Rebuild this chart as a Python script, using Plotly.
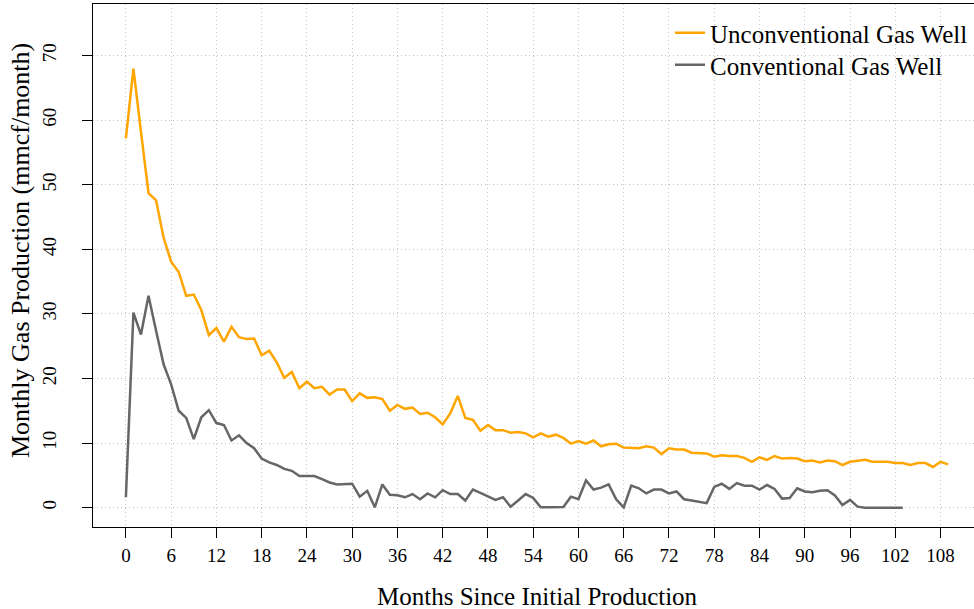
import plotly.graph_objects as go

months_unconv = list(range(0, 110))
unconventional = [57.2, 68.0, 58.2, 48.7, 47.6, 41.8, 38.1, 36.5, 32.8, 33.0,
                  30.6, 26.7, 27.8, 25.7, 28.0, 26.4, 26.1, 26.2, 23.6, 24.3,
                  22.5, 20.1, 21.0, 18.5, 19.5, 18.5, 18.7, 17.5, 18.3, 18.3,
                  16.5, 17.7, 17.0, 17.1, 16.8, 15.0, 15.9, 15.3, 15.5, 14.5,
                  14.7, 14.0, 12.9, 14.6, 17.3, 13.9, 13.6, 11.9, 12.8, 12.0,
                  12.0, 11.6, 11.7, 11.5, 10.9, 11.5, 11.0, 11.3, 10.8, 9.9,
                  10.3, 9.9, 10.4, 9.5, 9.8, 9.9, 9.3, 9.2, 9.2, 9.5,
                  9.3, 8.3, 9.2, 9.0, 9.0, 8.5, 8.5, 8.4, 7.9, 8.1,
                  8.0, 8.0, 7.7, 7.1, 7.8, 7.4, 8.0, 7.6, 7.7, 7.6,
                  7.2, 7.3, 7.0, 7.3, 7.2, 6.6, 7.1, 7.3, 7.4, 7.1,
                  7.1, 7.1, 6.9, 6.9, 6.6, 6.9, 6.9, 6.3, 7.1, 6.7]

months_conv = list(range(0, 104))
conventional = [1.6, 30.2, 26.8, 32.8, 27.4, 22.2, 19.1, 15.0, 13.9, 10.6,
                14.0, 15.1, 13.1, 12.8, 10.4, 11.2, 10.0, 9.2, 7.6, 7.0,
                6.6, 6.0, 5.7, 4.9, 4.9, 4.9, 4.4, 3.9, 3.6, 3.6,
                3.7, 1.7, 2.6, 0.05, 3.6, 2.0, 1.9, 1.6, 2.1, 1.3,
                2.2, 1.6, 2.7, 2.1, 2.1, 1.1, 2.8, 2.3, 1.7, 1.2,
                1.6, 0.15, 1.1, 2.1, 1.5, 0.05, 0.05, 0.05, 0.1, 1.7,
                1.3, 4.2, 2.8, 3.1, 3.6, 1.3, 0.05, 3.4, 3.0, 2.2,
                2.8, 2.8, 2.2, 2.5, 1.3, 1.1, 0.9, 0.7, 3.2, 3.7,
                2.9, 3.8, 3.4, 3.4, 2.8, 3.5, 2.9, 1.4, 1.5, 3.0,
                2.5, 2.4, 2.6, 2.7, 1.9, 0.4, 1.2, 0.15, 0.0, 0.0,
                0.0, 0.0, 0.0, 0.0]

x_ticks = list(range(0, 109, 6))
y_ticks = list(range(0, 71, 10))

FONT = "Liberation Serif"
PLOT_L, PLOT_T, PLOT_W, PLOT_H = 93, 4, 881, 523

fig = go.Figure()
fig.add_trace(go.Scatter(x=months_unconv, y=unconventional, mode="lines",
                         name="Unconventional Gas Well", legend="legend",
                         line=dict(color="#FFA500", width=2.5)))
fig.add_trace(go.Scatter(x=months_conv, y=conventional, mode="lines",
                         name="Conventional Gas Well", legend="legend2",
                         line=dict(color="#666666", width=2.5)))

legend_common = dict(xanchor="left", yanchor="top", bgcolor="rgba(0,0,0,0)", borderwidth=0,
                     font=dict(family=FONT, size=25, color="black"))

fig.update_layout(
    width=974, height=609,
    margin=dict(l=PLOT_L, r=0, t=PLOT_T, b=609 - PLOT_T - PLOT_H, autoexpand=False),
    plot_bgcolor="white", paper_bgcolor="white",
    font=dict(family=FONT, color="black"),
    showlegend=True,
    legend=dict(x=(670 - PLOT_L) / PLOT_W, y=1 - 6 / PLOT_H, **legend_common),
    legend2=dict(x=(670 - PLOT_L) / PLOT_W, y=1 - 38 / PLOT_H, **legend_common),
)

fig.update_xaxes(
    range=[-4.36, 112.44],
    tickmode="array", tickvals=x_ticks, ticktext=[str(v) for v in x_ticks],
    ticks="outside", ticklen=10, tickwidth=1, tickcolor="black",
    tickfont=dict(family=FONT, size=19, color="black"),
    ticklabelstandoff=1,
    showline=True, linecolor="black", linewidth=1.3, mirror=True,
    showgrid=True, gridcolor="#c4c4c4", griddash="1px,3px", gridwidth=1,
    zeroline=False,
)
fig.update_yaxes(
    range=[-3, 78],
    tickmode="array", tickvals=y_ticks, ticktext=[str(v) for v in y_ticks],
    ticks="outside", ticklen=10, tickwidth=1, tickcolor="black",
    tickfont=dict(family=FONT, size=19, color="black"),
    tickangle=-90, ticklabelstandoff=18,
    showline=True, linecolor="black", linewidth=1.3, mirror=False,
    showgrid=True, gridcolor="#c4c4c4", griddash="1px,3px", gridwidth=1,
    zeroline=False,
)

fig.add_annotation(text="Months Since Initial Production", xref="paper", yref="paper",
                   x=(537 - PLOT_L) / PLOT_W, y=-(596 - PLOT_T - PLOT_H) / PLOT_H,
                   xanchor="center", yanchor="middle",
                   showarrow=False, font=dict(family=FONT, size=25, color="black"))
fig.add_annotation(text="Monthly Gas Production (mmcf/month)", xref="paper", yref="paper",
                   x=-(PLOT_L - 20) / PLOT_W, y=1 - (251 - PLOT_T) / PLOT_H,
                   xanchor="center", yanchor="middle", textangle=-90,
                   showarrow=False, font=dict(family=FONT, size=26, color="black"))

fig.write_html("out.html", config={"displayModeBar": False},
               post_script="document.body.style.margin='0';")
